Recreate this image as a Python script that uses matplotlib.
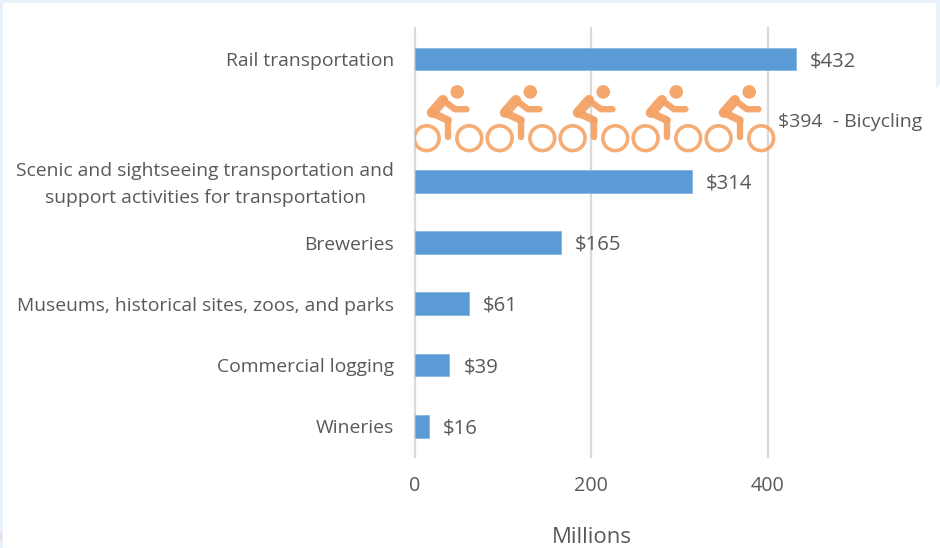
import matplotlib
matplotlib.use("Agg")
import matplotlib.pyplot as plt
from matplotlib.patches import Circle, Polygon
from matplotlib.lines import Line2D
from matplotlib.transforms import Affine2D, ScaledTranslation, blended_transform_factory

categories = ["Rail transportation", "Bicycling",
              "Scenic and sightseeing transportation and\nsupport activities for transportation",
              "Breweries", "Museums, historical sites, zoos, and parks",
              "Commercial logging", "Wineries"]
values = [432, 394, 314, 165, 61, 39, 16]
xticks = [0, 200, 400]

TEXT = "#595959"
BLUE = "#5B9BD5"
ORANGE = "#F4A366"
GRID = "#D9D9D9"
FRAME = "#E9F2FA"
PLOT_FONT = "Open Sans"

plt.rcParams["font.family"] = [PLOT_FONT, "DejaVu Sans"]

W, H = 940, 548
fig = plt.figure(figsize=(W / 100, H / 100), dpi=100, facecolor="white")


def px_poly(points, color):
    # polygon given in pixels from the top left corner
    pts = [(x / W, 1 - y / H) for x, y in points]
    fig.patches.append(Polygon(pts, closed=True, transform=fig.transFigure, fc=color, ec="none", zorder=-5))


# pale frame along the top and the two sides, with a small pink mark low on the left
px_poly([(0, 0), (940, 0), (940, 84), (936, 90), (936, 3), (3, 3), (3, 548), (0, 548)], FRAME)
px_poly([(0, 532), (2, 532), (2, 541), (0, 541)], "#F3DCE6")

left, right, top, bottom = 415, 856, 28.4, 456.8
ax = fig.add_axes([left / W, 1 - bottom / H, (right - left) / W, (bottom - top) / H])
ax.patch.set_alpha(0)
ax.set_xlim(0, 500)
ax.set_ylim(len(values) - 0.5, -0.5)

for s in ax.spines.values():
    s.set_visible(False)
for t in xticks:
    ax.axvline(t, color=GRID, lw=1.6, zorder=1, clip_on=False)

ax.set_xticks(xticks)
ax.set_xticklabels([str(t) for t in xticks], fontsize=14.2, color=TEXT)
ax.tick_params(axis="x", length=0, pad=14)
ax.set_yticks(range(len(categories)))
ax.set_yticklabels([c if c != "Bicycling" else "" for c in categories], fontsize=13.9, color=TEXT,
                   linespacing=1.6, multialignment="center")
ax.tick_params(axis="y", length=0, pad=15)

# the two line label sits a little high in its row
two_line = ax.get_yticklabels()[2]
two_line.set_transform(two_line.get_transform() + Affine2D().translate(0, 3))

ax.xaxis.set_label_text("Millions", fontsize=16, color=TEXT)
ax.xaxis.set_label_coords(200, -0.163, transform=blended_transform_factory(ax.transData, ax.transAxes))


def draw_bike(ax, x, row):
    # one rider, sized in pixels and anchored on a data position
    t = Affine2D().scale(1, -1) + ScaledTranslation(x, row, ax.transData)
    for cx in (11.7, 54.3):
        ax.add_patch(Circle((cx, 18), 12.4, transform=t, fc="none", ec=ORANGE, lw=2.6, alpha=0.9, zorder=3))
    ax.add_patch(Circle((42.3, -28.3), 6.8, transform=t, fc=ORANGE, ec="none", alpha=0.95, zorder=3))
    for xs, ys, width in [([28, 17], [-20, -7.5], 7.5),
                          ([17, 33], [-7.5, 0], 5.5),
                          ([33, 33], [0, 17], 4.6),
                          ([28, 40, 51.5], [-20, -11, -11], 4.6)]:
        ax.add_line(Line2D(xs, ys, transform=t, color=ORANGE, lw=width, solid_capstyle="round",
                           solid_joinstyle="round", alpha=0.95, zorder=3))


# bars, with the bicycling row drawn as a line of riders
for i, (c, v) in enumerate(zip(categories, values)):
    if c == "Bicycling":
        n_bikes = 5
        step = v / n_bikes * 1.05
        for k in range(n_bikes):
            draw_bike(ax, k * step, i)
        ax.annotate("$%d  - Bicycling" % v, (v, i), xytext=(15, -2), textcoords="offset pixels",
                    va="center", ha="left", fontsize=14, color=TEXT, zorder=4)
    else:
        ax.barh(i, v, height=0.37, color=BLUE, edgecolor="#7FB2E0", lw=0.5, zorder=2)
        ax.annotate("$%d" % v, (v, i), xytext=(14, -2), textcoords="offset pixels",
                    va="center", ha="left", fontsize=14.6, color=TEXT, zorder=4)

fig.savefig("out.png", dpi=100)
